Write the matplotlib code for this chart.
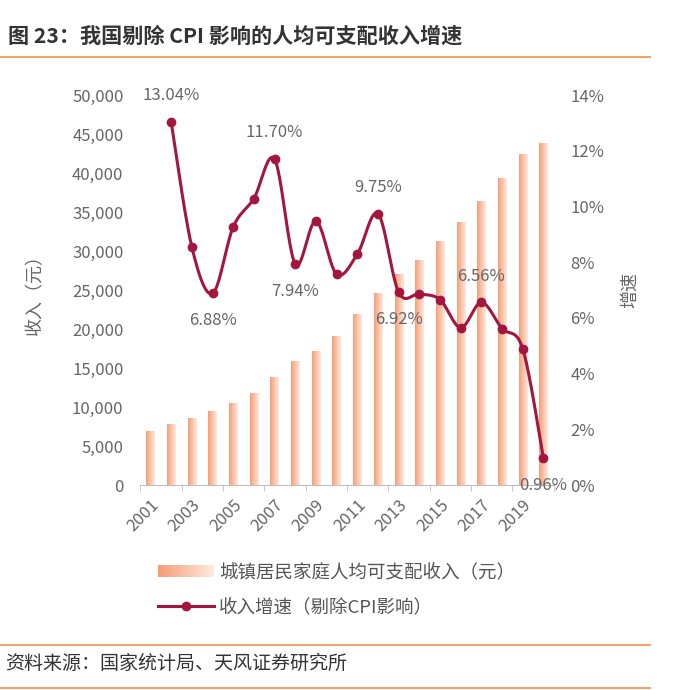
import matplotlib
matplotlib.use("Agg")
import matplotlib.pyplot as plt
import numpy as np
from matplotlib.colors import LinearSegmentedColormap
from matplotlib.legend_handler import HandlerBase
from matplotlib.lines import Line2D
from matplotlib.patches import Rectangle
from matplotlib.ticker import FuncFormatter, MultipleLocator

plt.rcParams["font.family"] = ["Noto Sans CJK SC", "DejaVu Sans"]

YEARS = list(range(2001, 2021))
INCOME = [6860, 7703, 8472, 9422, 10493, 11759, 13786, 15781, 17175, 19109,
          21810, 24565, 26955, 28844, 31195, 33616, 36396, 39251, 42359, 43834]
GROWTH_YEARS = list(range(2002, 2021))
GROWTH = [13.04, 8.55, 6.88, 9.27, 10.29, 11.70, 7.94, 9.48, 7.57, 8.29,
          9.75, 6.92, 6.86, 6.66, 5.65, 6.56, 5.62, 4.89, 0.96]
LABELED = {2002: "above", 2004: "below", 2007: "above", 2008: "below",
           2012: "above", 2013: "below", 2017: "above", 2020: "below"}

TITLE = "图 23：我国剔除 CPI 影响的人均可支配收入增速"
SOURCE = "资料来源：国家统计局、天风证券研究所"
BAR_LABEL = "城镇居民家庭人均可支配收入（元）"
LINE_LABEL = "收入增速（剔除CPI影响）"

LINE_C = "#A3173F"
RULE_C = "#F0A46A"
TXT_C = "#666666"
BAR_CMAP = LinearSegmentedColormap.from_list("bar", ["#F59E76", "#FDE9DE"])


def smooth(x, y, n=24):
    # catmull-rom style curve through the points (like excel smoothed line)
    x = np.asarray(x, float)
    y = np.asarray(y, float)
    xs, ys = [], []
    for i in range(len(x) - 1):
        p0 = np.array([x[max(i - 1, 0)], y[max(i - 1, 0)]])
        p1 = np.array([x[i], y[i]])
        p2 = np.array([x[i + 1], y[i + 1]])
        p3 = np.array([x[min(i + 2, len(x) - 1)], y[min(i + 2, len(x) - 1)]])
        c1 = p1 + (p2 - p0) / 6
        c2 = p2 - (p3 - p1) / 6
        t = np.linspace(0, 1, n)[:, None]
        pts = ((1 - t) ** 3) * p1 + 3 * ((1 - t) ** 2) * t * c1 + 3 * (1 - t) * t ** 2 * c2 + t ** 3 * p2
        xs.extend(pts[:, 0])
        ys.extend(pts[:, 1])
    return xs, ys


class GradientHandler(HandlerBase):
    def create_artists(self, legend, orig, xdescent, ydescent, width, height, fontsize, trans):
        arts = []
        n = 30
        for k in range(n):
            r = Rectangle((xdescent + width * k / n, ydescent + height * 0.05), width / n + 0.3, height * 0.9,
                          facecolor=BAR_CMAP(k / (n - 1)), edgecolor="none", transform=trans)
            arts.append(r)
        return arts


def main():
    fig = plt.figure(figsize=(6.77, 6.90), dpi=100)
    ax = fig.add_axes([0.207, 0.297, 0.611, 0.565])
    ax2 = ax.twinx()

    x = np.arange(len(YEARS))
    w = 0.4
    grad = np.linspace(0, 1, 64).reshape(1, -1)
    for xi, h in zip(x, INCOME):
        ax.imshow(grad, cmap=BAR_CMAP, aspect="auto", extent=(xi - w / 2, xi + w / 2, 0, h),
                  interpolation="bilinear", zorder=2)
    ax.set_xlim(-0.5, len(YEARS) - 0.5)
    ax.set_ylim(0, 50000)
    ax.yaxis.set_major_locator(MultipleLocator(5000))
    ax.yaxis.set_major_formatter(FuncFormatter(lambda v, p: f"{int(v):,}"))

    gx = [YEARS.index(y) for y in GROWTH_YEARS]
    sx, sy = smooth(gx, GROWTH)
    ax2.plot(sx, sy, color=LINE_C, linewidth=2.2, zorder=3)
    ax2.plot(gx, GROWTH, "o", color=LINE_C, markersize=6, zorder=4)
    ax2.set_ylim(0, 14)
    ax2.yaxis.set_major_locator(MultipleLocator(2))
    ax2.yaxis.set_major_formatter(FuncFormatter(lambda v, p: f"{int(v)}%"))

    for yr, pos in LABELED.items():
        v = GROWTH[GROWTH_YEARS.index(yr)]
        dy = 19 if pos == "above" else -19.5
        ax2.annotate(f"{v:.2f}%", (YEARS.index(yr), v), xytext=(0, dy), textcoords="offset points",
                     ha="center", va="center", fontsize=12, color=TXT_C, zorder=5)

    # x axis: labels on odd years, ticks on category edges every two years
    ax.set_xticks(x[::2])
    ax.set_xticklabels([str(y) for y in YEARS[::2]], rotation=45, ha="right", va="top",
                       rotation_mode="anchor", fontsize=12, color=TXT_C)
    ax.set_xticks(np.arange(-0.5, len(YEARS), 2), minor=True)
    ax.tick_params(axis="x", which="major", length=0, pad=8)
    ax.tick_params(axis="x", which="minor", length=4, color="#BFBFBF")
    for a in (ax, ax2):
        for s in a.spines.values():
            s.set_visible(False)
    ax.spines["bottom"].set_visible(True)
    ax.spines["bottom"].set_color("#BFBFBF")
    ax.spines["bottom"].set_zorder(6)
    ax.tick_params(axis="y", length=0, labelsize=12, labelcolor=TXT_C, pad=12)
    ax2.tick_params(axis="y", length=0, labelsize=12, labelcolor=TXT_C, pad=12)
    ax.set_ylabel("收入（元）", fontsize=13, color=TXT_C, labelpad=20)
    ax2.set_ylabel("增速", fontsize=13, color=TXT_C, labelpad=12)

    handles = [Rectangle((0, 0), 1, 1), Line2D([], [], color=LINE_C, linewidth=2.2, marker="o", markersize=6)]
    fig.legend(handles, [BAR_LABEL, LINE_LABEL], handler_map={Rectangle: GradientHandler()},
               loc="upper left", bbox_to_anchor=(0.234, 0.183), frameon=False, fontsize=13.3,
               labelcolor="#555555", handlelength=3.0, handleheight=0.7, handletextpad=0.3,
               labelspacing=0.9, borderaxespad=0, borderpad=0)

    fig.text(0.012, 0.947, TITLE, fontsize=15.2, fontweight="bold", color="#333333", va="center", ha="left")
    fig.add_artist(Line2D([0, 0.96], [0.917, 0.917], color=RULE_C, linewidth=1.5))
    fig.add_artist(Line2D([0, 0.96], [0.065, 0.065], color=RULE_C, linewidth=1.5))
    fig.add_artist(Line2D([0, 0.96], [0.003, 0.003], color=RULE_C, linewidth=1.5))
    fig.text(0.008, 0.038, SOURCE, fontsize=13.7, color="#333333", va="center", ha="left")

    fig.savefig("out.png", dpi=100)
    plt.close(fig)


if __name__ == "__main__":
    main()
